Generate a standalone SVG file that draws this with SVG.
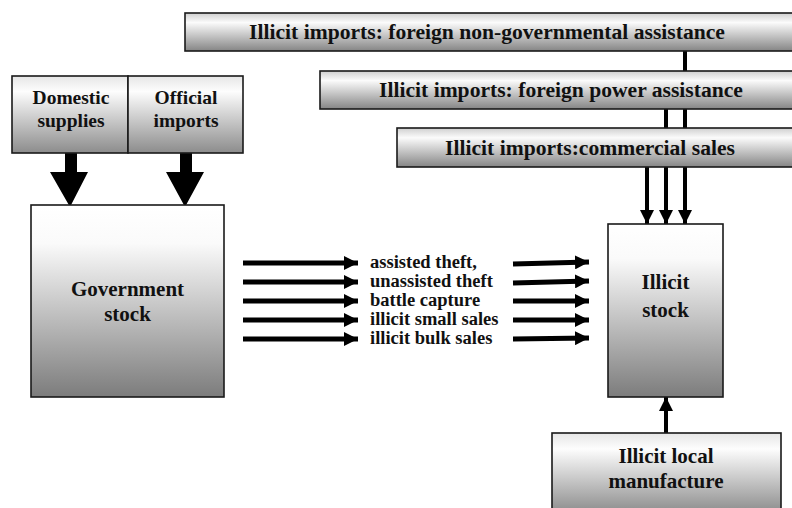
<svg xmlns="http://www.w3.org/2000/svg" width="792" height="508" viewBox="0 0 792 508">
<defs>
<linearGradient id="gBox" x1="0" y1="0" x2="0" y2="1">
<stop offset="0" stop-color="#ffffff"/>
<stop offset="0.2" stop-color="#fafafa"/>
<stop offset="1" stop-color="#7c7c7c"/>
</linearGradient>
<linearGradient id="gBar" x1="0" y1="0" x2="0" y2="1">
<stop offset="0" stop-color="#cfcfcf"/>
<stop offset="0.25" stop-color="#fbfbfb"/>
<stop offset="1" stop-color="#858585"/>
</linearGradient>
<linearGradient id="gSmall" x1="0" y1="0" x2="0" y2="1">
<stop offset="0" stop-color="#e6e6e6"/>
<stop offset="0.2" stop-color="#fdfdfd"/>
<stop offset="1" stop-color="#8c8c8c"/>
</linearGradient>
<marker id="ah" markerWidth="14" markerHeight="14" refX="14" refY="7" orient="auto" markerUnits="userSpaceOnUse">
<path d="M0,0 L14,7 L0,14 Z" fill="#000"/>
</marker>
</defs>
<style>
.box{stroke:#1a1a1a;stroke-width:1.6}
.t{font-family:"Liberation Serif","Times New Roman",serif;font-weight:bold;fill:#111;text-anchor:middle}
.big{font-size:21px}
.bar{font-size:21.6px}
.two{font-size:19.5px}
.lbl{font-family:"Liberation Serif","Times New Roman",serif;font-weight:bold;fill:#111;font-size:18.5px}
.ln{stroke:#000;stroke-width:4;fill:none}
.ar{stroke:#000;stroke-width:5;fill:none;marker-end:url(#ah)}
.arv{stroke:#000;stroke-width:4;fill:none;marker-end:url(#ah)}
</style>

<g id="connectors">
<line class="ln" x1="685" y1="51" x2="685" y2="71"/>
<line class="ln" x1="666" y1="109" x2="666" y2="128"/>
<line class="ln" x1="685" y1="109" x2="685" y2="128"/>
<line class="arv" x1="647" y1="167" x2="647" y2="224"/>
<line class="arv" x1="666" y1="167" x2="666" y2="224"/>
<line class="arv" x1="685" y1="167" x2="685" y2="224"/>
<line class="arv" x1="666" y1="433" x2="666" y2="397"/>
<path d="M65,153 H77 V172 H88 L70,207 L50,172 H65 Z" fill="#000"/>
<path d="M180,153 H192 V172 H204 L185,207 L166,172 H180 Z" fill="#000"/>
<line class="ar" x1="243" y1="263" x2="358" y2="263"/>
<line class="ar" x1="243" y1="282" x2="358" y2="282"/>
<line class="ar" x1="243" y1="301" x2="358" y2="301"/>
<line class="ar" x1="243" y1="320" x2="358" y2="320"/>
<line class="ar" x1="243" y1="339" x2="358" y2="339"/>
<line class="ar" x1="513" y1="264" x2="589" y2="262"/>
<line class="ar" x1="513" y1="283" x2="589" y2="281"/>
<line class="ar" x1="513" y1="301" x2="589" y2="301"/>
<line class="ar" x1="513" y1="320" x2="589" y2="320"/>
<line class="ar" x1="513" y1="339" x2="589" y2="338"/>
</g>

<g id="flow-labels">
<text class="lbl" x="370" y="268">assisted theft,</text>
<text class="lbl" x="370" y="287">unassisted theft</text>
<text class="lbl" x="370" y="306">battle capture</text>
<text class="lbl" x="370" y="325">illicit small sales</text>
<text class="lbl" x="370" y="344">illicit bulk sales</text>
</g>

<g id="imports-ngo">
<rect class="box" x="185" y="13" width="620" height="38" fill="url(#gBar)"/>
<text class="t bar" x="487" y="39">Illicit imports: foreign non-governmental assistance</text>
</g>
<g id="imports-power">
<rect class="box" x="320" y="71" width="485" height="38" fill="url(#gBar)"/>
<text class="t bar" x="561" y="97">Illicit imports: foreign power assistance</text>
</g>
<g id="imports-commercial">
<rect class="box" x="397" y="128" width="408" height="39" fill="url(#gBar)"/>
<text class="t bar" x="590" y="155">Illicit imports:commercial sales</text>
</g>

<g id="domestic">
<rect class="box" x="12" y="76" width="116" height="77" fill="url(#gSmall)"/>
<text class="t two" x="71" y="104">Domestic</text>
<text class="t two" x="71" y="127">supplies</text>
</g>
<g id="official">
<rect class="box" x="128" y="76" width="115" height="77" fill="url(#gSmall)"/>
<text class="t two" x="186" y="104">Official</text>
<text class="t two" x="186" y="127">imports</text>
</g>

<g id="government-stock">
<rect class="box" x="31" y="205" width="193" height="192" fill="url(#gBox)"/>
<text class="t big" x="127.5" y="296">Government</text>
<text class="t big" x="127.5" y="321">stock</text>
</g>

<g id="illicit-stock">
<rect class="box" x="608" y="224" width="115" height="173" fill="url(#gBox)"/>
<text class="t big" x="665.5" y="289">Illicit</text>
<text class="t big" x="665.5" y="317">stock</text>
</g>

<g id="local-manufacture">
<rect class="box" x="552" y="433" width="229" height="80" fill="url(#gSmall)"/>
<text class="t big" x="666" y="463">Illicit local</text>
<text class="t big" x="666" y="488">manufacture</text>
</g>
</svg>
